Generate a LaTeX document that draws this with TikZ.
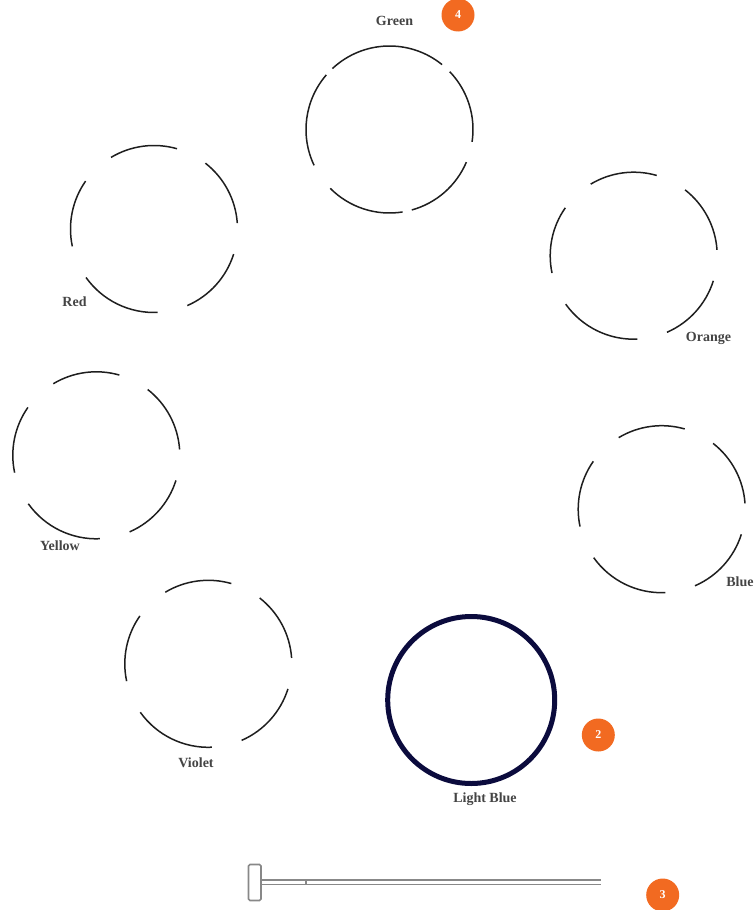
\documentclass[tikz,border=0pt]{standalone}
\usepackage{fontspec}
\setmainfont{Liberation Serif}
\definecolor{ringcol}{HTML}{1E1E1E}
\definecolor{navy}{HTML}{0B0B3D}
\definecolor{badge}{HTML}{F26A21}
\definecolor{labelcol}{HTML}{444444}
\definecolor{mallet}{HTML}{888888}
\newcommand\ringR{83.5}
\newcommand\stdarcs{239/286, 308/356, 17.5/66.5, 87.5/144.5, 168/215}
\newcommand\greenarcs{226.9/309, 316.2/368.5, 23/74.5, 81/135.2, 154.6/220.8}
\newcommand\dashring[2]{%
  \foreach \a/\b in #2 {\draw[ringline] (#1) ++(\a:\ringR) arc[start angle=\a, end angle=\b, radius=\ringR];}%
}
\begin{document}
\begin{tikzpicture}[x=1pt,y=-1pt,
  ringline/.style={draw=ringcol, line width=1.5pt},
  colourlabel/.style={font=\fontsize{14}{16}\selectfont\bfseries, text=labelcol, inner sep=0pt},
  badgenode/.style={circle, fill=badge, minimum size=33pt, inner sep=0pt, text=white, font=\fontsize{12}{13}\selectfont\bfseries},
  malletline/.style={draw=mallet, line width=1.6pt}]
\useasboundingbox (0,0) rectangle (754,910);
% centres
\coordinate (green) at (389.5,129.5);
\coordinate (red) at (154,229);
\coordinate (orange) at (633.7,255.7);
\coordinate (yellow) at (96.3,455.3);
\coordinate (blue) at (661.7,509.2);
\coordinate (violet) at (208.3,663.8);
\coordinate (lightblue) at (471.2,700);
% rings
\dashring{green}{\greenarcs}
\dashring{red}{\stdarcs}
\dashring{orange}{\stdarcs}
\dashring{yellow}{\stdarcs}
\dashring{blue}{\stdarcs}
\dashring{violet}{\stdarcs}
\draw[navy, line width=5pt] (lightblue) circle[radius=83.5];
% labels
\node[colourlabel] (lgreen) at (394.5,21) {Green};
\node[colourlabel] (lred) at (74.5,302) {Red};
\node[colourlabel] (lorange) at (708.5,338) {Orange};
\node[colourlabel] (lyellow) at (60,546) {Yellow};
\node[colourlabel] (lblue) at (740,582) {Blue};
\node[colourlabel] (lviolet) at (196,763) {Violet};
\node[colourlabel] (llightblue) at (485,799) {Light Blue};
% badges
\node[badgenode] (b4) at (458,15) {4};
\node[badgenode] (b2) at (598.3,735) {2};
\node[badgenode] (b3) at (662.7,895) {3};
% mallet
\draw[malletline, rounded corners=1.5pt] (248.5,864.5) rectangle (261,900.5);
\draw[malletline] (261,880) -- (601,880);
\draw[malletline] (261,884.5) -- (601,884.5);
\draw[malletline] (306,880) -- (306,884.5);
\end{tikzpicture}
\end{document}
